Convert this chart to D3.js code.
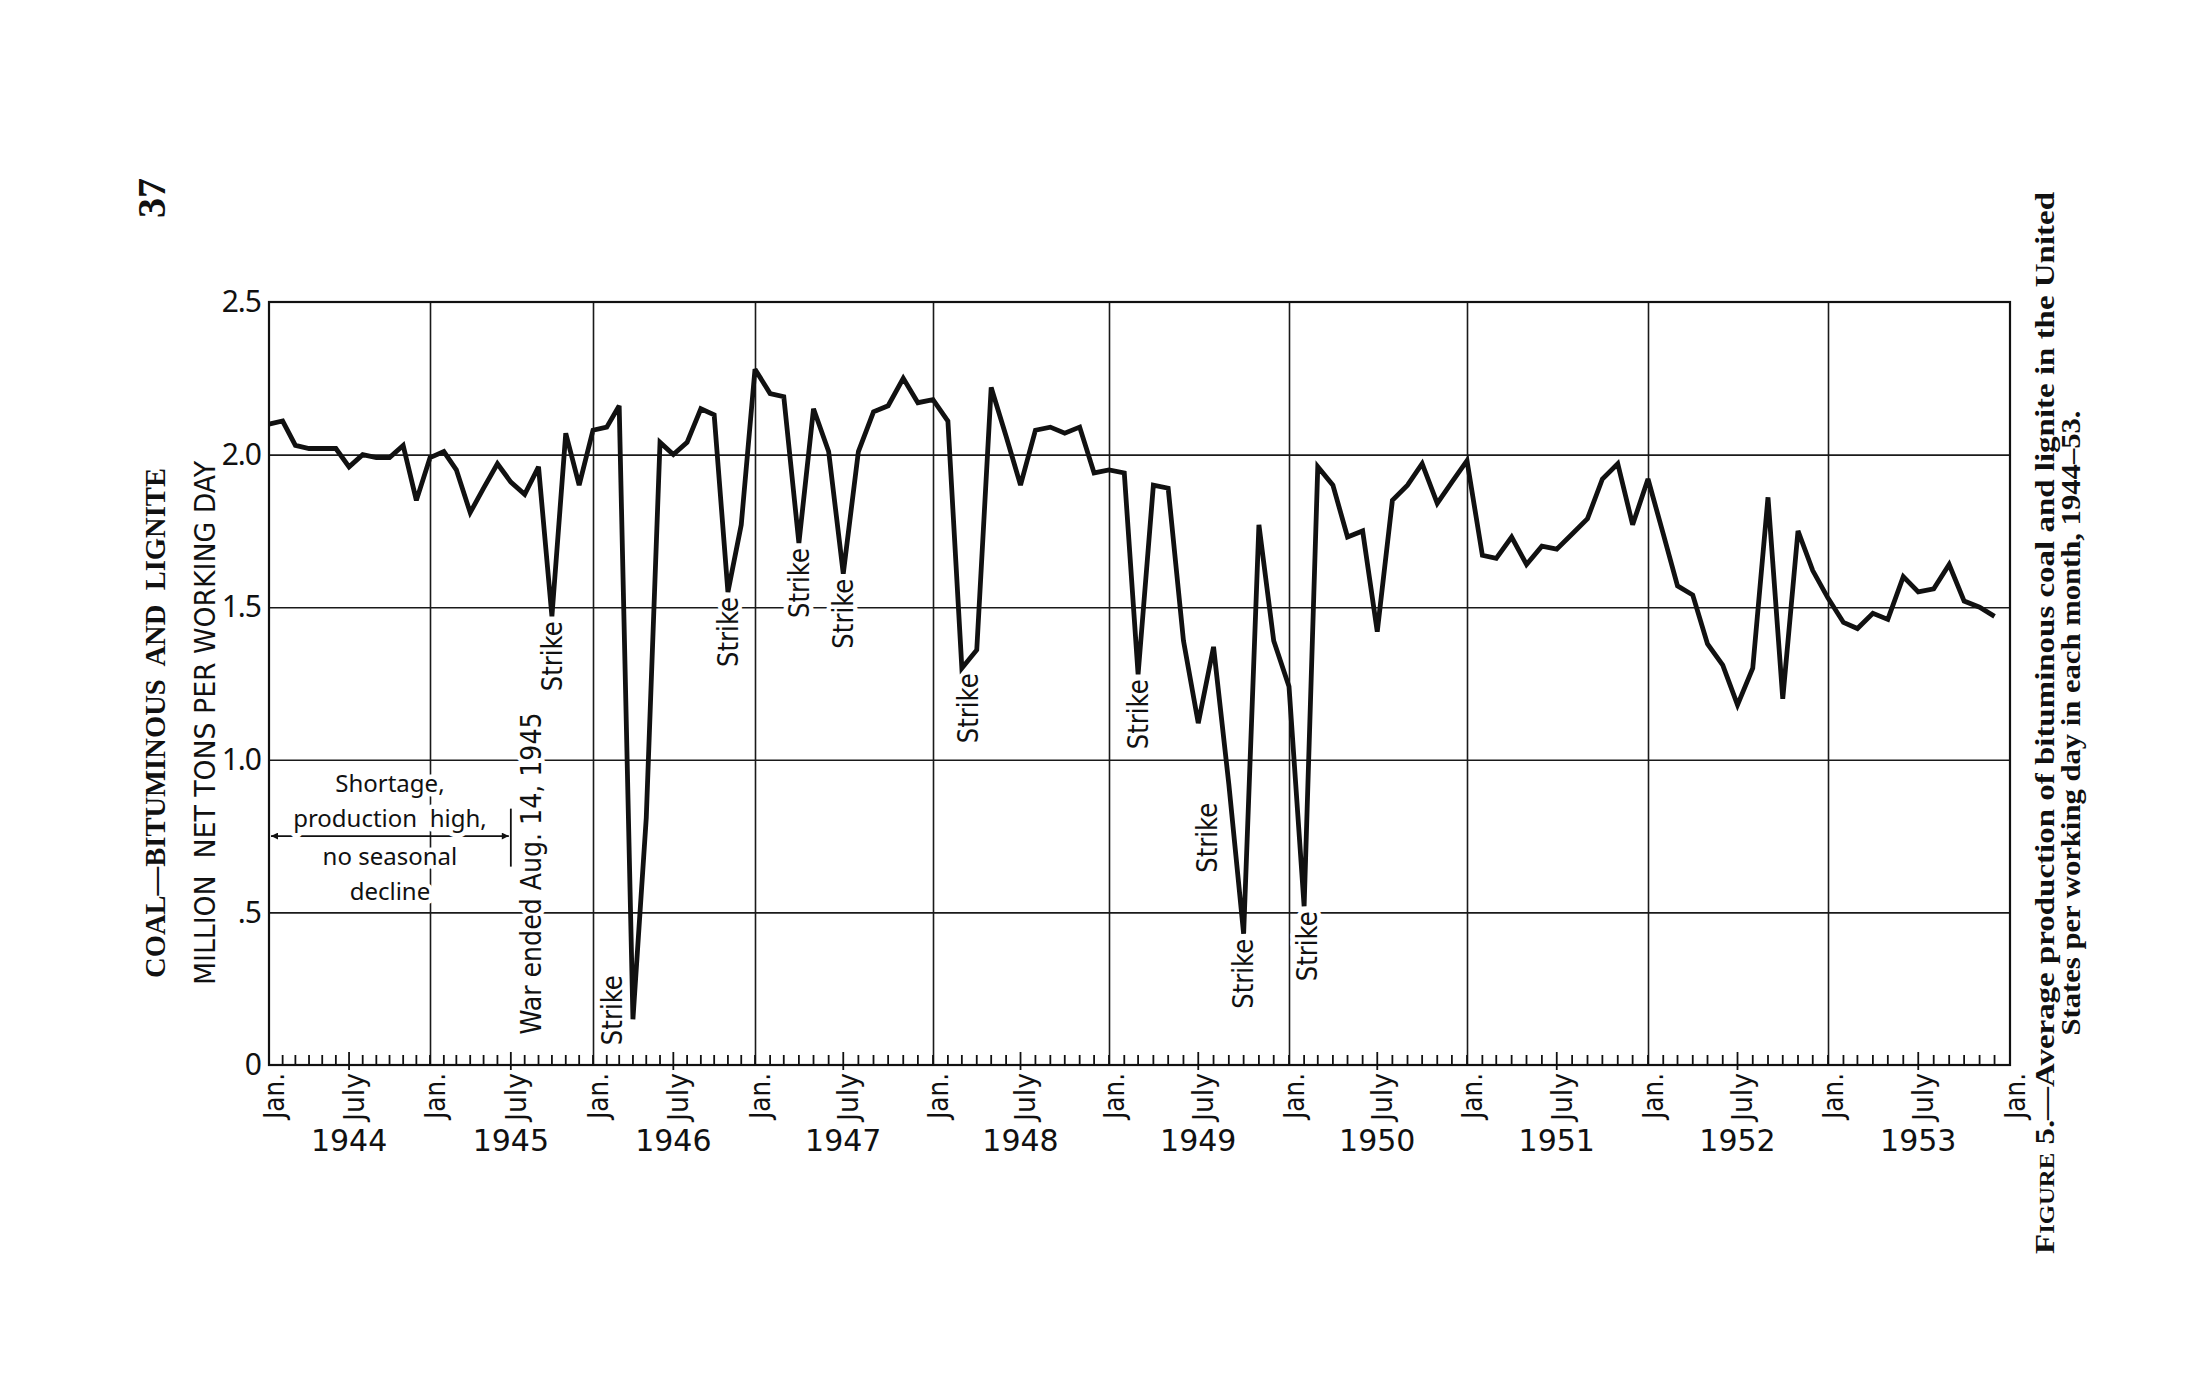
<!DOCTYPE html>
<html>
<head>
<meta charset="utf-8">
<script src="https://cdn.jsdelivr.net/npm/d3@7"></script>
<style>
  body { margin: 0; background: #fff; }
  svg { display: block; background: #fff; }
  .grid line { stroke: #1a1a1a; stroke-width: 1.6; }
  .grid .domain { display: none; }
  .halo { paint-order: stroke; stroke: #fff; stroke-width: 9; stroke-linejoin: round; }
</style>
</head>
<body>
<svg id="chart"></svg>
<script>
// Monthly average production, million net tons per working day (Jan..Dec)
const years = [1944, 1945, 1946, 1947, 1948, 1949, 1950, 1951, 1952, 1953];
const v1944 = [2.10, 2.11, 2.03, 2.02, 2.02, 2.02, 1.96, 2.00, 1.99, 1.99, 2.03, 1.85];
const v1945 = [1.99, 2.01, 1.95, 1.81, 1.89, 1.97, 1.91, 1.87, 1.96, 1.47, 2.07, 1.90];
const v1946 = [2.08, 2.09, 2.16, 0.15, 0.81, 2.04, 2.00, 2.04, 2.15, 2.13, 1.55, 1.77];
const v1947 = [2.28, 2.20, 2.19, 1.71, 2.15, 2.01, 1.61, 2.01, 2.14, 2.16, 2.25, 2.17];
const v1948 = [2.18, 2.11, 1.30, 1.36, 2.22, 2.06, 1.90, 2.08, 2.09, 2.07, 2.09, 1.94];
const v1949 = [1.95, 1.94, 1.28, 1.90, 1.89, 1.39, 1.12, 1.37, 0.92, 0.43, 1.77, 1.39];
const v1950 = [1.24, 0.52, 1.96, 1.90, 1.73, 1.75, 1.42, 1.85, 1.90, 1.97, 1.84, 1.91];
const v1951 = [1.98, 1.67, 1.66, 1.73, 1.64, 1.70, 1.69, 1.74, 1.79, 1.92, 1.97, 1.77];
const v1952 = [1.92, 1.74, 1.57, 1.54, 1.38, 1.31, 1.18, 1.30, 1.86, 1.20, 1.75, 1.62];
const v1953 = [1.53, 1.45, 1.43, 1.48, 1.46, 1.60, 1.55, 1.56, 1.64, 1.52, 1.50, 1.47];
const yearValues = [v1944, v1945, v1946, v1947, v1948, v1949, v1950, v1951, v1952, v1953];

const yTicks = [0, 0.5, 1.0, 1.5, 2.0, 2.5];
const yTickLabels = ["0", ".5", "1.0", "1.5", "2.0", "2.5"];
const yGrid = [0.5, 1.0, 1.5, 2.0];

// months marked "Strike" (year, month index)
const strikes = [[1945, 9], [1946, 3], [1946, 10], [1947, 3], [1947, 6],
                 [1948, 2], [1949, 2], [1949, 8], [1949, 9], [1950, 1]];

const shortageLines = ["Shortage,", "production  high,", "no seasonal", "decline"];
const shortageLevels = [0.895, 0.78, 0.655, 0.54];
const shortageEnd = new Date(1945, 6, 1);
const warEnd = new Date(1945, 7, 14);

const yTitle = "MILLION  NET TONS PER WORKING DAY";
const sideTitle = "COAL\u2014BITUMINOUS  AND  LIGNITE";
const captionLine2 = "States per working day in each month, 1944\u201353.";

const series = years.flatMap((yr, i) =>
  yearValues[i].map((v, m) => ({date: new Date(yr, m, 1), value: v})));

// ---- layout ----
const W = 2192, H = 1380;
const margin = {top: 302, right: 182, bottom: 315, left: 269};
const width = W - margin.left - margin.right;
const height = H - margin.top - margin.bottom;
// the printed year divisions are not quite even (page curvature); offsets of each Jan. line
const janOffsets = [0, 161, 324, 486, 664, 840, 1020, 1198, 1379, 1559, 1741];

const numFont = "'Noto Sans', 'DejaVu Sans', sans-serif";
const yearFont = "'DejaVu Sans', 'Noto Sans', sans-serif";
const narrowFont = "'Liberation Sans Narrow', 'DejaVu Sans Condensed', 'Roboto', sans-serif";
const serifFont = "'Liberation Serif', 'DejaVu Serif', serif";

const svg = d3.select('#chart').attr('width', W).attr('height', H);
const chart = svg.append('g').attr('transform', `translate(${margin.left},${margin.top})`);

const x = d3.scaleTime()
    .domain(d3.range(1944, 1955).map(yr => new Date(yr, 0, 1)))
    .range(janOffsets);
const y = d3.scaleLinear().domain([0, 2.5]).range([height, 0]);

// gridlines
chart.append('g').attr('class', 'grid')
    .call(d3.axisLeft(y).tickValues(yGrid).tickSize(-width).tickFormat(''));
chart.append('g').attr('class', 'grid')
    .attr('transform', `translate(0,${height})`)
    .call(d3.axisBottom(x).tickValues(d3.range(1945, 1954).map(yr => new Date(yr, 0, 1)))
      .tickSize(height).tickFormat(''))
    .selectAll('line').attr('y2', -height);

// monthly ticks pointing inward
const monthTicks = d3.timeMonth.range(new Date(1944, 1, 1), new Date(1954, 0, 1));
chart.append('g').selectAll('line')
  .data(monthTicks)
  .join('line')
    .attr('x1', d => x(d)).attr('x2', d => x(d))
    .attr('y1', d => d.getMonth() === 6 ? height + 5 : height)
    .attr('y2', d => d.getMonth() === 6 ? height - 13 : height - 10)
    .attr('stroke', '#111').attr('stroke-width', 1.8);

// y tick labels
const yAxisG = chart.append('g')
    .call(d3.axisLeft(y).tickValues(yTicks).tickSize(0).tickPadding(8)
      .tickFormat((d, i) => yTickLabels[i]));
yAxisG.select('.domain').remove();
yAxisG.selectAll('text')
    .attr('font-family', numFont).attr('font-size', 30).attr('letter-spacing', -1)
    .attr('fill', '#111');

// month labels Jan./July
const monthLabels = d3.timeMonth.every(6).range(new Date(1944, 0, 1), new Date(1954, 0, 2));
chart.append('g').selectAll('text')
  .data(monthLabels)
  .join('text')
    .attr('transform', d => `translate(${x(d) + 5},${height + 8}) rotate(-90)`)
    .attr('dy', '0.35em')
    .attr('text-anchor', 'end')
    .attr('font-family', narrowFont).attr('font-size', 28).attr('fill', '#111')
    .attr('textLength', d => d.getMonth() === 0 ? 46 : 48)
    .attr('lengthAdjust', 'spacingAndGlyphs')
    .text(d => d.getMonth() === 0 ? 'Jan.' : 'July');

// year labels centred on July
chart.append('g').selectAll('text')
  .data(years)
  .join('text')
    .attr('x', yr => x(new Date(yr, 6, 1)))
    .attr('y', height + 86)
    .attr('text-anchor', 'middle')
    .attr('font-family', yearFont).attr('font-size', 30).attr('fill', '#111')
    .text(yr => yr);

// ---- annotations ----
// shortage arrow
const defs = svg.append('defs');
defs.append('marker').attr('id', 'arr').attr('viewBox', '0 0 10 10')
    .attr('refX', 10).attr('refY', 5).attr('markerWidth', 11).attr('markerHeight', 7)
    .attr('markerUnits', 'userSpaceOnUse').attr('orient', 'auto-start-reverse')
  .append('path').attr('d', 'M0,0L10,5L0,10Z').attr('fill', '#111');

const xs = x(shortageEnd);
chart.append('line')
    .attr('x1', x(new Date(1944, 0, 1)) + 2).attr('x2', xs - 2)
    .attr('y1', y(0.75)).attr('y2', y(0.75))
    .attr('stroke', '#111').attr('stroke-width', 1.8)
    .attr('marker-start', 'url(#arr)').attr('marker-end', 'url(#arr)');
chart.append('line')
    .attr('x1', xs).attr('x2', xs).attr('y1', y(0.84)).attr('y2', y(0.65))
    .attr('stroke', '#111').attr('stroke-width', 1.8);

const midX = (x(new Date(1944, 0, 1)) + xs) / 2;
chart.append('g').selectAll('text')
  .data(shortageLines)
  .join('text')
    .attr('class', 'halo')
    .attr('x', midX)
    .attr('y', (d, i) => y(shortageLevels[i]))
    .attr('text-anchor', 'middle')
    .attr('font-family', numFont).attr('font-size', 24).attr('fill', '#111')
    .style('white-space', 'pre')
    .text(d => d);

chart.append('text')
    .attr('class', 'halo')
    .attr('transform', `translate(${x(warEnd)},${y(0.1)}) rotate(-90)`)
    .attr('dy', '0.35em')
    .attr('font-family', narrowFont).attr('font-size', 29).attr('fill', '#111')
    .attr('textLength', 322).attr('lengthAdjust', 'spacingAndGlyphs')
    .text('War ended Aug. 14, 1945');

// strike labels: most hang below their low point, two sit beside the line
const strikeOffsets = {"1946-3": {dx: -21, start: 0.065}, "1949-8": {dx: -22, start: 0.63},
                       "1948-2": {dx: 6}, "1950-1": {dx: 3}};
const strikeData = strikes.map(([yr, m]) => {
  const d = series[(yr - 1944) * 12 + m];
  const off = strikeOffsets[`${yr}-${m}`] || {};
  return {d, off};
});
chart.append('g').selectAll('text')
  .data(strikeData)
  .join('text')
    .attr('class', 'halo')
    .attr('transform', s => {
      const px = x(s.d.date) + (s.off.dx || 0);
      const py = s.off.start !== undefined ? y(s.off.start) : y(s.d.value) + 5;
      return `translate(${px},${py}) rotate(-90)`;
    })
    .attr('dy', '0.35em')
    .attr('text-anchor', s => s.off.start !== undefined ? 'start' : 'end')
    .attr('font-family', narrowFont).attr('font-size', 28).attr('fill', '#111')
    .attr('textLength', 70).attr('lengthAdjust', 'spacingAndGlyphs')
    .text('Strike');

// data line
chart.append('path')
    .datum(series)
    .attr('fill', 'none')
    .attr('stroke', '#111')
    .attr('stroke-width', 4.8)
    .attr('stroke-linejoin', 'miter')
    .attr('stroke-miterlimit', 3)
    .attr('d', d3.line().x(d => x(d.date)).y(d => y(d.value)));

// frame
chart.append('rect')
    .attr('width', width).attr('height', height)
    .attr('fill', 'none').attr('stroke', '#111').attr('stroke-width', 2.2);

// ---- titles and caption (page is printed sideways) ----
const midY = 723;
svg.append('text')
    .attr('transform', `translate(205,${midY}) rotate(-90)`)
    .attr('dy', '0.35em').attr('text-anchor', 'middle')
    .attr('font-family', narrowFont).attr('font-size', 29).attr('fill', '#111')
    .attr('textLength', 524).attr('lengthAdjust', 'spacingAndGlyphs')
    .style('white-space', 'pre')
    .text(yTitle);

svg.append('text')
    .attr('transform', `translate(154,${midY}) rotate(-90)`)
    .attr('dy', '0.35em').attr('text-anchor', 'middle')
    .attr('font-family', serifFont).attr('font-weight', 'bold').attr('font-size', 30)
    .attr('fill', '#111')
    .attr('textLength', 510).attr('lengthAdjust', 'spacingAndGlyphs')
    .style('white-space', 'pre')
    .text(sideTitle);

svg.append('text')
    .attr('transform', `translate(151,198) rotate(-90)`)
    .attr('dy', '0.35em').attr('text-anchor', 'middle')
    .attr('font-family', serifFont).attr('font-weight', 'bold').attr('font-size', 40)
    .attr('fill', '#111')
    .text('37');

const cap1 = svg.append('text')
    .attr('transform', `translate(2044,${midY}) rotate(-90)`)
    .attr('dy', '0.35em').attr('text-anchor', 'middle')
    .attr('font-family', serifFont).attr('font-weight', 'bold').attr('font-size', 28)
    .attr('fill', '#111')
    .attr('textLength', 1062).attr('lengthAdjust', 'spacingAndGlyphs');
cap1.append('tspan').text('F');
cap1.append('tspan').attr('font-size', 21).text('IGURE');
cap1.append('tspan').text(' 5.\u2014Average production of bituminous coal and lignite in the United');

svg.append('text')
    .attr('transform', `translate(2070,${midY}) rotate(-90)`)
    .attr('dy', '0.35em').attr('text-anchor', 'middle')
    .attr('font-family', serifFont).attr('font-weight', 'bold').attr('font-size', 28)
    .attr('fill', '#111')
    .attr('textLength', 625).attr('lengthAdjust', 'spacingAndGlyphs')
    .text(captionLine2);
</script>
</body>
</html>
